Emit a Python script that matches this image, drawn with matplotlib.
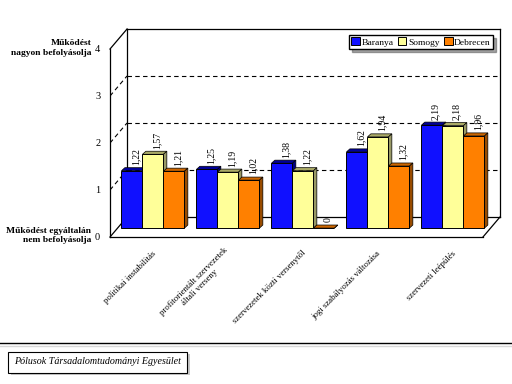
"""Pseudo-3D grouped bar chart: factors influencing organisational operation."""

import matplotlib
matplotlib.use("Agg")
import matplotlib.patheffects as pe
import matplotlib.pyplot as plt
from matplotlib.lines import Line2D
from matplotlib.patches import Patch, Polygon

# ---------------------------------------------------------------------------
# Data
# ---------------------------------------------------------------------------
categories = [
    "politikai instabilitás",
    "profitorientált szervezetek\náltali verseny",
    "szervezetek közti versenytől",
    "jogi szabályozás változása",
    "szervezeti leépülés",
]
series_names = ["Baranya", "Somogy", "Debrecen"]
baranya = [1.22, 1.25, 1.38, 1.62, 2.19]
somogy = [1.57, 1.19, 1.22, 1.94, 2.18]
debrecen = [1.21, 1.02, 0.0, 1.32, 1.96]
yticks = [0, 1, 2, 3, 4]

# face, top, side colours per series
FACE = ["#1010ff", "#ffff99", "#ff8000"]
TOP = ["#000099", "#aaaa66", "#cc6600"]
SIDE = ["#000080", "#999966", "#994c00"]

SERIF = "Liberation Serif"

# depth of the 3D box (data units) and of each bar
DX, DY = 0.227, 0.426
BDX, BDY = 0.045, 0.065
BAR_W = 0.28
BASE = 0.19

fig = plt.figure(figsize=(5.12, 3.84), dpi=100)
ax = fig.add_axes([110 / 512, 147 / 384, 390 / 512, 208 / 384])
ax.set_xlim(-0.573, 4.627)
ax.set_ylim(0, 4 + DY)
ax.set_axis_off()

# ---------------------------------------------------------------------------
# Box: back wall, left wall, floor
# ---------------------------------------------------------------------------
xl, xr = -0.573, 4.4
bl, br = xl + DX, xr + DX
k = dict(color="black", lw=0.9, clip_on=False)
ax.plot([xl, xl], [0, 4], **k)
ax.plot([xl, bl], [4, 4 + DY], **k)
ax.plot([bl, bl], [DY, 4 + DY], **k)
ax.plot([bl, br], [4 + DY, 4 + DY], **k)
ax.plot([br, br], [DY, 4 + DY], **k)
ax.plot([xl, xr], [0, 0], **k)
ax.plot([xr, br], [0, DY], **k)
ax.plot([xl, bl], [0, DY], **k)
ax.plot([bl, br], [DY, DY], **k)
for t in yticks[1:-1]:
    ax.plot([bl, br], [t + DY, t + DY], color="black", lw=0.8, ls=(0, (4, 3)))
    ax.plot([xl, bl], [t, t + DY], color="black", lw=0.8, ls=(0, (4, 3)))
for t in yticks:
    ax.text(xl - 0.13, t, str(t), ha="right", va="center",
            fontsize=7.5, family=SERIF)

ax.text(xl - 0.25, 4.02, "Működést\nnagyon befolyásolja", ha="right",
        va="center", fontsize=6.8, family=SERIF, fontweight="bold",
        linespacing=1.2)
ax.text(xl - 0.25, 0.03, "Működést egyáltalán\nnem befolyásolja", ha="right",
        va="center", fontsize=6.8, family=SERIF, fontweight="bold",
        linespacing=1.2)

# ---------------------------------------------------------------------------
# Bars
# ---------------------------------------------------------------------------
for s, vals in enumerate([baranya, somogy, debrecen]):
    xs = [i + (s - 1) * BAR_W for i in range(len(categories))]
    ax.bar(xs, vals, width=BAR_W, bottom=BASE, color=FACE[s],
           edgecolor="black", linewidth=0.7, zorder=3)
    for x, v in zip(xs, vals):
        x0, x1 = x - BAR_W / 2, x + BAR_W / 2
        top = BASE + v
        ax.add_patch(Polygon([(x0, top), (x0 + BDX, top + BDY),
                              (x1 + BDX, top + BDY), (x1, top)],
                             closed=True, fc=TOP[s], ec="black", lw=0.5,
                             zorder=2))
        ax.add_patch(Polygon([(x1, BASE), (x1 + BDX, BASE + BDY),
                              (x1 + BDX, top + BDY), (x1, top)],
                             closed=True, fc=SIDE[s], ec="black", lw=0.5,
                             zorder=2))
        label = f"{v:.2f}".replace(".", ",") if v else "0"
        ax.text(x + 0.05, top + 0.12, label, rotation=90, ha="center",
                va="bottom", fontsize=7, family=SERIF, zorder=4)

for i, name in enumerate(categories):
    ax.text(i + 0.02, -0.32, name, rotation=45, rotation_mode="anchor",
            ha="right", va="center", ma="center", fontsize=6.3,
            family=SERIF, linespacing=0.9, clip_on=False)

handles = [Patch(fc=FACE[s], ec="black", lw=0.7) for s in range(3)]
fig.legend(handles, series_names, loc="upper right",
           bbox_to_anchor=(493 / 512, 1 - 35 / 384), ncol=3,
           prop={"family": SERIF, "size": 6.8}, frameon=True,
           fancybox=False, shadow=True, edgecolor="black",
           handlelength=0.9, handleheight=0.9, handletextpad=0.15,
           columnspacing=0.5, borderpad=0.25, borderaxespad=0)

# footer rule and source box
fig.add_artist(Line2D([0, 1], [1 - 343 / 384] * 2, color="black", lw=1.0))
fig.add_artist(Line2D([0, 1], [1 - 346 / 384] * 2, color="#d8d8d8", lw=1.0))
src = fig.text(14 / 512, 1 - 362 / 384, "Pólusok Társadalomtudományi Egyesület",
               ha="left", va="center", fontsize=7.2, family=SERIF,
               style="italic",
               bbox=dict(boxstyle="square,pad=0.6", fc="white", ec="black",
                         lw=0.8))
src.get_bbox_patch().set_path_effects([
    pe.SimplePatchShadow(offset=(2, -2), shadow_rgbFace="#c8c8c8", alpha=1),
    pe.Normal(),
])

fig.savefig("out.png", dpi=100)
